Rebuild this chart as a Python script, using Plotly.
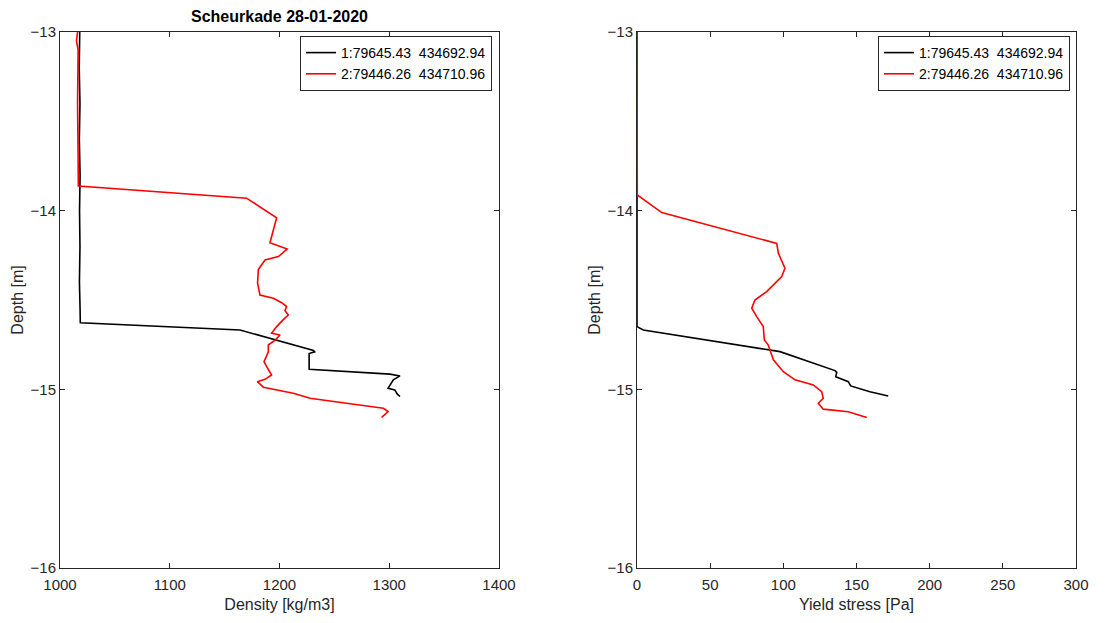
import plotly.graph_objects as go

# ---------------- data ----------------
legend_names = ["1:79645.43  434692.94", "2:79446.26  434710.96"]
title_text = "Scheurkade 28-01-2020"

# Left panel: density
dens_black = [1018.0, 1017.5, 1018.2, 1017.6, 1018.3, 1017.8, 1018.2, 1017.7, 1018.3, 1018.5,
              1164.0, 1231.0, 1232.0, 1227.0, 1227.0, 1300.7, 1309.8, 1303.7, 1299.0, 1305.0,
              1307.4, 1309.8]
depth_dens_black = [-13.0, -13.2, -13.4, -13.6, -13.8, -14.0, -14.2, -14.4, -14.55, -14.627,
                    -14.668, -14.783, -14.79, -14.80, -14.888, -14.915, -14.925, -14.947, -14.994, -15.003,
                    -15.027, -15.04]

dens_red = [1016.0, 1015.0, 1016.5, 1016.0, 1016.5, 1016.7, 1170.0, 1197.4, 1191.3, 1207.0,
            1199.0, 1186.8, 1180.7, 1180.0, 1182.2, 1194.4, 1202.0, 1206.5, 1205.0, 1208.0,
            1203.5, 1197.4, 1192.8, 1200.5, 1196.0, 1189.8, 1189.8, 1185.9, 1188.3, 1192.8,
            1186.8, 1179.8, 1185.3, 1212.6, 1227.8, 1294.6, 1299.0, 1293.0]
depth_dens_red = [-13.0, -13.05, -13.1, -13.4, -13.7, -13.862, -13.93, -14.04, -14.18, -14.215,
                  -14.257, -14.276, -14.33, -14.406, -14.472, -14.49, -14.515, -14.537, -14.56, -14.584,
                  -14.61, -14.649, -14.686, -14.696, -14.724, -14.752, -14.79, -14.845, -14.873, -14.92,
                  -14.944, -14.957, -14.988, -15.022, -15.05, -15.106, -15.125, -15.157]

# Right panel: yield stress
ys_black = [0.0, 0.0, 4.3, 18.0, 97.7, 135.3, 136.5, 135.8, 144.4, 146.0, 159.2, 171.7]
depth_ys_black = [-13.0, -14.649, -14.668, -14.686, -14.789, -14.895, -14.905, -14.929, -14.957, -14.981,
                  -15.013, -15.037]

ys_red = [0.0, 0.2, 16.9, 95.5, 96.6, 101.1, 98.9, 88.6, 80.6, 78.4,
          81.8, 86.3, 87.0, 89.7, 93.2, 100.0, 108.0, 120.5, 126.2, 127.3,
          123.9, 127.3, 144.4, 157.0]
depth_ys_red = [-13.0, -13.912, -14.011, -14.183, -14.238, -14.322, -14.369, -14.453, -14.5, -14.546,
                -14.593, -14.649, -14.724, -14.752, -14.835, -14.901, -14.947, -14.975, -15.013, -15.05,
                -15.078, -15.111, -15.125, -15.158]

dens_ticks = [1000, 1100, 1200, 1300, 1400]
ys_ticks = [0, 50, 100, 150, 200, 250, 300]
depth_ticks = [-13, -14, -15, -16]

# ---------------- figure ----------------
# page body has an 8px margin, so figure pixel = screen pixel - 8
OFF = 8
W, H = 1106 - OFF, 623 - 2 * OFF
FONT = "Liberation Sans, Arial, sans-serif"
AX = "#262626"
LW = 1.6

def px(x):
    return (x - OFF) / W

def py(y):
    return 1 - (y - OFF) / H

fig = go.Figure()
fig.add_trace(go.Scatter(x=dens_black, y=depth_dens_black, mode="lines", name=legend_names[0],
                         line=dict(color="black", width=LW), xaxis="x", yaxis="y", legend="legend"))
fig.add_trace(go.Scatter(x=dens_red, y=depth_dens_red, mode="lines", name=legend_names[1],
                         line=dict(color="#ff0000", width=LW), xaxis="x", yaxis="y", legend="legend"))
fig.add_trace(go.Scatter(x=ys_black, y=depth_ys_black, mode="lines", name=legend_names[0],
                         line=dict(color="black", width=LW), xaxis="x2", yaxis="y2", legend="legend2"))
fig.add_trace(go.Scatter(x=ys_red, y=depth_ys_red, mode="lines", name=legend_names[1],
                         line=dict(color="#ff0000", width=LW), xaxis="x2", yaxis="y2", legend="legend2"))

def xa(domain, rng, ticks, title):
    return dict(domain=domain, range=rng, tickvals=ticks, ticks="inside", ticklen=5, tickwidth=1,
                tickcolor=AX, showline=True, linecolor=AX, linewidth=1, mirror="ticks",
                showgrid=False, zeroline=False, tickfont=dict(size=15, color=AX, family=FONT),
                ticklabelstandoff=3,
                title=dict(text=title, font=dict(size=16, color=AX, family=FONT), standoff=6),
                automargin=False, fixedrange=True)

def ya(domain, anchor):
    return dict(domain=domain, range=[-16, -13], tickvals=depth_ticks, ticks="inside", ticklen=5,
                tickwidth=1, tickcolor=AX, showline=True, linecolor=AX, linewidth=1, mirror="ticks",
                showgrid=False, zeroline=False, tickfont=dict(size=15, color=AX, family=FONT),
                title=dict(text="Depth [m]", font=dict(size=16, color=AX, family=FONT), standoff=2),
                anchor=anchor, automargin=False, fixedrange=True)

ydom = [py(568), py(32)]
fig.update_layout(
    width=W, height=H, autosize=False,
    margin=dict(l=0, r=0, t=0, b=0, autoexpand=False),
    paper_bgcolor="white", plot_bgcolor="white",
    font=dict(family=FONT, color=AX),
    xaxis=xa([px(60), px(499)], [1000, 1400], dens_ticks, "Density [kg/m3]") | dict(anchor="y"),
    yaxis=ya(ydom, "x"),
    xaxis2=xa([px(637), px(1076)], [0, 300], ys_ticks, "Yield stress [Pa]") | dict(anchor="y2"),
    yaxis2=ya(ydom, "x2"),
    legend=dict(x=px(492), y=py(36), xanchor="right", yanchor="top", bgcolor="white",
                bordercolor=AX, borderwidth=1, font=dict(size=14, color="#000", family=FONT),
                itemwidth=30, tracegroupgap=0),
    legend2=dict(x=px(1070), y=py(36), xanchor="right", yanchor="top", bgcolor="white",
                 bordercolor=AX, borderwidth=1, font=dict(size=14, color="#000", family=FONT),
                 itemwidth=30, tracegroupgap=0),
    annotations=[dict(text="<b>" + title_text + "</b>", x=px((60 + 499) / 2), y=py(17),
                      xref="paper", yref="paper", xanchor="center", yanchor="middle",
                      showarrow=False, font=dict(size=16, color="#000", family=FONT))],
)

fig.write_html("out.html")
